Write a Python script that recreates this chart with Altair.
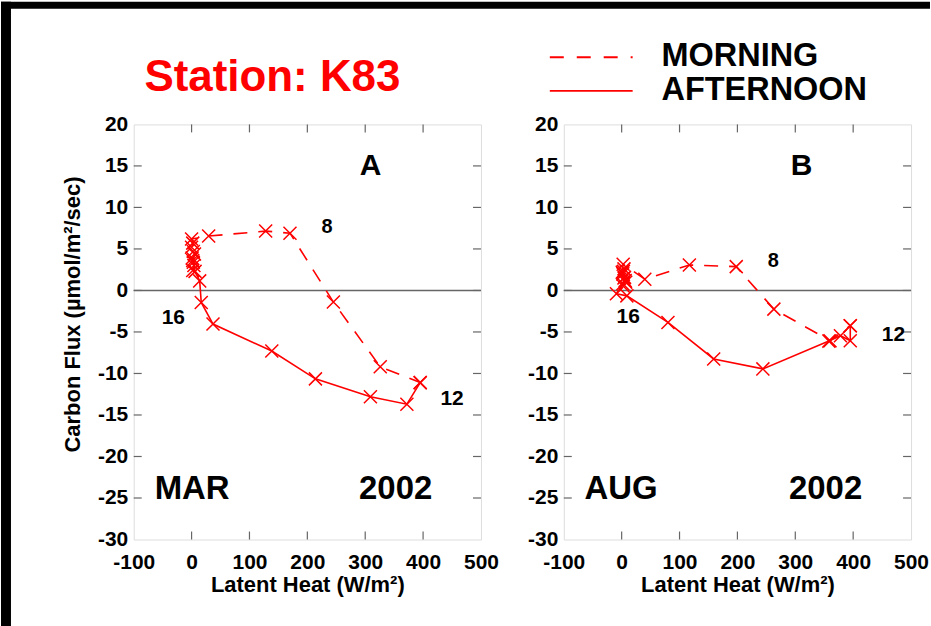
import altair as alt
import pandas as pd

# ---------------- data ----------------
X_TICKS = [-100, 0, 100, 200, 300, 400, 500]
Y_TICKS = [-30, -25, -20, -15, -10, -5, 0, 5, 10, 15, 20]
X_INNER = [0, 100, 200, 300, 400]
Y_INNER = [-25, -20, -15, -10, -5, 0, 5, 10, 15]

# Panel A: March 2002
mar_morning_x = [2, 4, 1, 3, 0, 2, 0, 29.5, 128, 170, 245, 326, 395]
mar_morning_y = [2.4, 3.0, 3.9, 4.7, 5.2, 5.7, 6.2, 6.55, 7.15, 6.9, -1.4, -9.2, -11.1]
mar_afternoon_x = [395, 372, 309, 214, 138.6, 37, 16.7, 14, 6, 3, 5, 2]
mar_afternoon_y = [-11.1, -13.7, -12.8, -10.65, -7.3, -4.05, -1.45, 1.15, 2.3, 3.4, 4.4, 3.6]

# Panel B: August 2002
aug_morning_x = [3, 6, 2, 5, 4, 1, 2.6, 40, 117, 198, 263, 360, 395]
aug_morning_y = [0.5, 1.2, 2.0, 1.6, 2.6, 2.2, 3.15, 1.35, 3.07, 2.87, -2.25, -6.05, -4.25]
aug_afternoon_x = [395, 395, 378, 358, 244, 159, 80, 9, -9, 2, 4, 7, 3]
aug_afternoon_y = [-4.25, -6.05, -5.45, -6.1, -9.45, -8.25, -3.85, -0.65, -0.4, 0.8, 1.5, 1.0, 2.3]

# annotations (text, x, y in data units, font size)
mar_notes_text = ["A", "8", "16", "12", "MAR", "2002"]
mar_notes_x = [309, 234, -31.6, 450, 1, 352.6]
mar_notes_y = [13.96, 6.95, -4.05, -13.85, -25.1, -25.1]
mar_notes_size = [30, 20, 21, 21, 33, 33]

aug_notes_text = ["B", "8", "16", "12", "AUG", "2002"]
aug_notes_x = [311, 262, 11.3, 469.7, -0.9, 352.4]
aug_notes_y = [13.96, 2.87, -3.93, -6.13, -25.1, -25.1]
aug_notes_size = [30, 20, 21, 21, 33, 33]

# ---------------- style ----------------
W, H = 348, 416
FONT = "Liberation Sans"
RED = "#ff0000"
AXC = "#666666"
XPATH = "M-1,-1L1,1M-1,1L1,-1"
TICK = 8
DASH = [14, 11]
LABEL_EXPR = "'' + datum.value"


def series_df(xs, ys):
    return pd.DataFrame({"x": xs, "y": ys, "i": list(range(len(xs)))})


def panel(mx, my, ax_, ay_, ntext, nx, ny, nsize, left):
    xs = alt.Scale(domain=[-100, 500], nice=False, zero=False)
    ys = alt.Scale(domain=[-30, 20], nice=False, zero=False)
    xax = alt.Axis(values=X_TICKS, ticks=False, domain=False, grid=False,
                   labelExpr=LABEL_EXPR,
                   labelFont=FONT, labelFontSize=21, labelFontWeight="bold",
                   labelColor="black", labelPadding=12, labelFlush=False,
                   title="Latent Heat (W/m²)", titleFont=FONT, titleFontSize=22,
                   titleFontWeight="bold", titleColor="black", titlePadding=2)
    ykw = dict(values=Y_TICKS, ticks=False, domain=False, grid=False,
               labelExpr=LABEL_EXPR,
               labelFont=FONT, labelFontSize=21, labelFontWeight="bold",
               labelColor="black", labelPadding=6, labelFlush=False)
    if left:
        ykw.update(title="Carbon Flux (µmol/m²/sec)", titleFont=FONT,
                   titleFontSize=22, titleFontWeight="bold", titleColor="black",
                   titlePadding=13, titleY=190)
    else:
        ykw.update(title="")
    yax = alt.Axis(**ykw)
    xenc = alt.X("x:Q", scale=xs, axis=xax)
    yenc = alt.Y("y:Q", scale=ys, axis=yax)

    one = pd.DataFrame({"a": [0]})
    xin = pd.DataFrame({"x": X_INNER})
    yin = pd.DataFrame({"y": Y_INNER})

    zero = alt.Chart(pd.DataFrame({"y": [0]})).mark_rule(
        color=AXC, strokeWidth=1.4).encode(y=yenc)
    top_t = alt.Chart(xin).mark_rule(color=AXC, strokeWidth=1.2).encode(
        x=xenc, y=alt.value(0), y2=alt.value(TICK))
    bot_t = alt.Chart(xin).mark_rule(color=AXC, strokeWidth=1.2).encode(
        x=xenc, y=alt.value(H), y2=alt.value(H - TICK))
    lef_t = alt.Chart(yin).mark_rule(color=AXC, strokeWidth=1.2).encode(
        y=yenc, x=alt.value(0), x2=alt.value(TICK))
    rig_t = alt.Chart(yin).mark_rule(color=AXC, strokeWidth=1.2).encode(
        y=yenc, x=alt.value(W), x2=alt.value(W - TICK))

    mdf = series_df(mx, my)
    adf = series_df(ax_, ay_)
    m_line = alt.Chart(mdf).mark_line(color=RED, strokeWidth=1.6,
                                      strokeDash=DASH).encode(
        x=xenc, y=yenc, order="i:Q")
    a_line = alt.Chart(adf).mark_line(color=RED, strokeWidth=1.6).encode(
        x=xenc, y=yenc, order="i:Q")
    m_pts = alt.Chart(mdf).mark_point(shape=XPATH, size=170, filled=False,
                                      color=RED, strokeWidth=1.5,
                                      opacity=1).encode(x=xenc, y=yenc)
    a_pts = alt.Chart(adf).mark_point(shape=XPATH, size=170, filled=False,
                                      color=RED, strokeWidth=1.5,
                                      opacity=1).encode(x=xenc, y=yenc)

    ndf = pd.DataFrame({"x": nx, "y": ny, "t": ntext, "s": nsize})
    notes = alt.Chart(ndf).mark_text(font=FONT, fontWeight="bold",
                                     color="black", align="center",
                                     baseline="alphabetic").encode(
        x=xenc, y=yenc, text="t:N", size=alt.Size("s:Q", scale=None))

    layers = [zero, top_t, bot_t, lef_t, rig_t, m_line, a_line, m_pts, a_pts, notes]

    if left:
        title = alt.Chart(one).mark_text(
            text="Station: K83", font=FONT, fontWeight="bold", fontSize=44,
            color=RED, align="center", baseline="alphabetic").encode(
            x=alt.value(139), y=alt.value(-33))
        top_black = alt.Chart(one).mark_rect(color="black").encode(
            x=alt.value(-133), x2=alt.value(798),
            y=alt.value(-123), y2=alt.value(-116))
        left_black = alt.Chart(one).mark_rect(color="black").encode(
            x=alt.value(-133), x2=alt.value(-123),
            y=alt.value(-123), y2=alt.value(503))
        layers += [title, top_black, left_black]
    else:
        leg_dash = alt.Chart(one).mark_rule(color=RED, strokeWidth=1.8,
                                            strokeDash=[14, 13]).encode(
            x=alt.value(-14), x2=alt.value(69), y=alt.value(-67.3))
        leg_solid = alt.Chart(one).mark_rule(color=RED, strokeWidth=1.8).encode(
            x=alt.value(-14), x2=alt.value(69), y=alt.value(-33.7))
        leg_m = alt.Chart(one).mark_text(
            text="MORNING", font=FONT, fontWeight="bold", fontSize=32.5,
            color="black", align="left", baseline="alphabetic").encode(
            x=alt.value(98), y=alt.value(-58.7))
        leg_a = alt.Chart(one).mark_text(
            text="AFTERNOON", font=FONT, fontWeight="bold", fontSize=32.5,
            color="black", align="left", baseline="alphabetic").encode(
            x=alt.value(98), y=alt.value(-24))
        layers += [leg_dash, leg_solid, leg_m, leg_a]

    return alt.layer(*layers).properties(width=W, height=H)


pa = panel(mar_morning_x, mar_morning_y, mar_afternoon_x, mar_afternoon_y,
           mar_notes_text, mar_notes_x, mar_notes_y, mar_notes_size, True)
pb = panel(aug_morning_x, aug_morning_y, aug_afternoon_x, aug_afternoon_y,
           aug_notes_text, aug_notes_x, aug_notes_y, aug_notes_size, False)

chart = alt.hconcat(pa, pb, spacing=83, bounds="flush").properties(
    padding=0
).configure_view(stroke=AXC, strokeWidth=1.3).configure(background="white")

chart.save("out.html", embed_options={"renderer": "svg", "actions": False})
